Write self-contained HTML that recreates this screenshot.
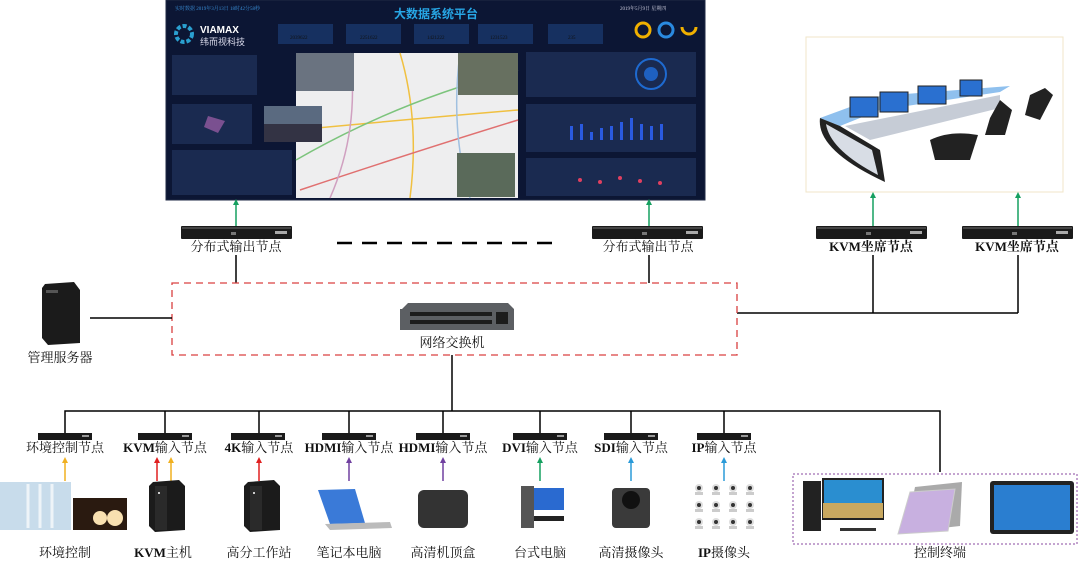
<!DOCTYPE html>
<html><head><meta charset="utf-8"><style>
html,body{margin:0;padding:0;background:#fff;width:1080px;height:561px;overflow:hidden}
svg{display:block}
text{font-family:"Liberation Serif","Noto Serif CJK SC",serif;fill:#111}
</style></head><body>
<svg width="1080" height="561" viewBox="0 0 1080 561" xmlns="http://www.w3.org/2000/svg">
<defs>
<g id="node"><rect x="0" y="0" width="111" height="13" rx="1" fill="#1a1a1a"/><rect x="1" y="1" width="109" height="2" fill="#444"/><rect x="94" y="5" width="12" height="3" fill="#aaa"/><rect x="50" y="6" width="5" height="3" fill="#777"/></g>
<g id="snode"><rect x="0" y="0" width="54" height="7" fill="#1a1a1a"/><rect x="44" y="2" width="7" height="2" fill="#999"/></g>
<g id="tower"><path d="M4 2 L30 0 L36 6 L36 50 L6 52 L0 46 L0 6 Z" fill="#1b1b1b"/><rect x="6" y="6" width="12" height="44" fill="#2a2a2a"/><rect x="9" y="12" width="2" height="2" fill="#ccc"/></g>
<g id="cam"><circle cx="5" cy="4" r="4" fill="#ddd"/><circle cx="5" cy="4" r="2" fill="#333"/><rect x="1" y="8" width="8" height="3" fill="#ccc"/></g>
</defs>

<!-- Dashboard -->
<rect x="166" y="0" width="539" height="200" fill="#0c1634"/>
<rect x="166" y="0" width="539" height="200" fill="none" stroke="#1f2a44" stroke-width="1"/>
<text x="436" y="18" font-size="12" font-weight="bold" text-anchor="middle" style="fill:#27a7e6;font-family:'Liberation Sans','Noto Sans CJK SC',sans-serif">大数据系统平台</text>
<text x="175" y="10" font-size="5" style="fill:#3a8fd8">实时数据  2019年3月13日 18时42分58秒</text>
<text x="620" y="10" font-size="5" style="fill:#ccd">2019年5月9日 星期四</text>
<circle cx="184" cy="34" r="8" fill="none" stroke="#2aa0d0" stroke-width="4" stroke-dasharray="4 2"/>
<text x="200" y="33" font-size="10" font-weight="bold" style="fill:#fff;font-family:'Liberation Sans',sans-serif">VIAMAX</text>
<text x="200" y="45" font-size="9" style="fill:#dde;font-family:'Liberation Sans','Noto Sans CJK SC',sans-serif">纬而视科技</text>
<g fill="#163060">
<rect x="278" y="24" width="55" height="20"/><rect x="346" y="24" width="55" height="20"/><rect x="414" y="24" width="55" height="20"/><rect x="478" y="24" width="55" height="20"/><rect x="548" y="24" width="55" height="20"/>
</g>
<g font-size="5" style="fill:#4ab4ff"><text x="290" y="39">2039622</text><text x="360" y="39">2251622</text><text x="427" y="39">1421222</text><text x="490" y="39">1231523</text><text x="568" y="39">235</text></g>
<circle cx="643" cy="30" r="7" fill="none" stroke="#f0b000" stroke-width="3"/><circle cx="666" cy="30" r="7" fill="none" stroke="#2a8ae0" stroke-width="3"/><path d="M682 27 A7 7 0 0 0 696 27" fill="none" stroke="#f0b000" stroke-width="3"/>
<!-- map -->
<rect x="296" y="53" width="222" height="145" fill="#eeeeef"/>
<g fill="none" stroke-width="1.5">
<path d="M296 130 Q400 120 518 110" stroke="#f0c040"/><path d="M400 53 Q420 120 410 198" stroke="#f0c040"/>
<path d="M296 160 Q400 100 518 70" stroke="#7cc47c"/><path d="M300 190 Q420 150 518 120" stroke="#e07070"/>
<path d="M350 53 Q360 130 330 198" stroke="#d0a0c0"/><path d="M460 53 Q450 130 470 198" stroke="#a0c0e0"/>
</g>
<rect x="296" y="53" width="58" height="38" fill="#6a7380"/><rect x="264" y="106" width="58" height="36" fill="#5a6a80"/><rect x="264" y="124" width="58" height="18" fill="#334"/>
<rect x="458" y="53" width="60" height="42" fill="#677060"/><rect x="457" y="153" width="58" height="44" fill="#5a6a5a"/>
<!-- left/right widgets -->
<g fill="#1a2a50"><rect x="172" y="55" width="85" height="40"/><rect x="172" y="104" width="80" height="40"/><rect x="172" y="150" width="120" height="45"/>
<rect x="526" y="52" width="170" height="45"/><rect x="526" y="104" width="170" height="48"/><rect x="526" y="158" width="170" height="38"/></g>
<path d="M208 116 L225 121 L218 133 L204 127 Z" fill="#7a5090"/>
<circle cx="651" cy="74" r="15" fill="none" stroke="#1e6ad0" stroke-width="2"/><circle cx="651" cy="74" r="7" fill="#1e60c0"/>
<g fill="#2a5ae0"><rect x="570" y="126" width="3" height="14"/><rect x="580" y="124" width="3" height="16"/><rect x="590" y="132" width="3" height="8"/><rect x="600" y="128" width="3" height="12"/><rect x="610" y="126" width="3" height="14"/><rect x="620" y="122" width="3" height="18"/><rect x="630" y="118" width="3" height="22"/><rect x="640" y="124" width="3" height="16"/><rect x="650" y="126" width="3" height="14"/><rect x="660" y="124" width="3" height="16"/></g>
<g fill="#e04060"><circle cx="580" cy="180" r="2"/><circle cx="600" cy="182" r="2"/><circle cx="620" cy="178" r="2"/><circle cx="640" cy="181" r="2"/><circle cx="660" cy="183" r="2"/></g>

<!-- Desk picture -->
<rect x="806" y="37" width="257" height="155" fill="#fff" stroke="#f0e6c8" stroke-width="1"/>
<path d="M820 118 L880 96 L1010 86 L1000 92 L880 110 L840 126 Z" fill="#8fc0ee"/>
<path d="M820 118 Q816 150 885 182 L880 150 L840 126 Z" fill="#222"/>
<path d="M826 124 Q830 150 878 175 L872 150 Z" fill="#d8dde5"/>
<path d="M845 126 L1000 95 L1000 108 L870 140 Z" fill="#c6ccd6"/>
<g fill="#2a70d0" stroke="#222"><rect x="850" y="97" width="28" height="20"/><rect x="880" y="92" width="28" height="20"/><rect x="918" y="86" width="28" height="18"/><rect x="960" y="80" width="22" height="16"/></g>
<g fill="#222"><path d="M930 140 Q950 130 978 135 L970 160 L935 160Z"/><path d="M990 118 L1000 100 L1012 110 L1005 135 L985 135Z"/><path d="M1030 95 L1045 88 L1053 95 L1040 120 L1025 115Z"/></g>

<!-- top output nodes -->
<line x1="236" y1="226" x2="236" y2="203" stroke="#16a060" stroke-width="1.5"/><path d="M236 199 l-3 6 h6z" fill="#16a060"/>
<use href="#node" x="181" y="226"/>
<text x="236" y="251" font-size="13" text-anchor="middle">分布式输出节点</text>
<line x1="236" y1="255" x2="236" y2="283" stroke="#000" stroke-width="1.5"/>
<line x1="649" y1="226" x2="649" y2="203" stroke="#16a060" stroke-width="1.5"/><path d="M649 199 l-3 6 h6z" fill="#16a060"/>
<use href="#node" x="592" y="226"/>
<text x="648" y="251" font-size="13" text-anchor="middle">分布式输出节点</text>
<line x1="649" y1="255" x2="649" y2="283" stroke="#000" stroke-width="1.5"/>
<line x1="337" y1="243" x2="560" y2="243" stroke="#000" stroke-width="2.5" stroke-dasharray="15 10"/>

<line x1="873" y1="226" x2="873" y2="196" stroke="#16a060" stroke-width="1.5"/><path d="M873 192 l-3 6 h6z" fill="#16a060"/>
<use href="#node" x="816" y="226"/>
<text x="871" y="251" font-size="13" font-weight="bold" text-anchor="middle">KVM坐席节点</text>
<line x1="1018" y1="226" x2="1018" y2="196" stroke="#16a060" stroke-width="1.5"/><path d="M1018 192 l-3 6 h6z" fill="#16a060"/>
<use href="#node" x="962" y="226"/>
<text x="1017" y="251" font-size="13" font-weight="bold" text-anchor="middle">KVM坐席节点</text>
<path d="M873 255 V313 M1018 255 V313 M737 313 H1018" stroke="#000" stroke-width="1.5" fill="none"/>

<!-- red dashed -->
<rect x="172" y="283" width="565" height="72" fill="none" stroke="#d94040" stroke-width="1.3" stroke-dasharray="7 5"/>
<!-- server -->
<path d="M45 284 L74 282 L80 290 L80 343 L48 345 L42 338 L42 288Z" fill="#1b1b1b"/><rect x="46" y="290" width="12" height="3" fill="#555"/>
<text x="60" y="362" font-size="13" text-anchor="middle">管理服务器</text>
<line x1="90" y1="318" x2="172" y2="318" stroke="#000" stroke-width="1.5"/>
<!-- switch -->
<path d="M402 309 L408 303 L508 303 L514 309 L514 330 L400 330 L400 309Z" fill="#5c5f63"/>
<g fill="#1c1c1c"><rect x="410" y="312" width="82" height="4"/><rect x="410" y="320" width="82" height="4"/><rect x="496" y="312" width="12" height="12"/></g>
<text x="452" y="347" font-size="13" text-anchor="middle">网络交换机</text>
<line x1="452" y1="355" x2="452" y2="411" stroke="#000" stroke-width="1.5"/>

<!-- bottom bus -->
<path d="M65 433 V411 H940 V472 M165 411 V433 M259 411 V433 M349 411 V433 M443 411 V433 M540 411 V433 M631 411 V433 M724 411 V433" stroke="#000" stroke-width="1.5" fill="none"/>
<use href="#snode" x="38" y="433"/><use href="#snode" x="138" y="433"/><use href="#snode" x="231" y="433"/><use href="#snode" x="322" y="433"/><use href="#snode" x="416" y="433"/><use href="#snode" x="513" y="433"/><use href="#snode" x="604" y="433"/><use href="#snode" x="697" y="433"/>
<g font-size="13" font-weight="bold" text-anchor="middle">
<text x="65" y="452" font-weight="normal">环境控制节点</text><text x="165" y="452">KVM<tspan font-weight="normal">输入节点</tspan></text><text x="259" y="452">4K<tspan font-weight="normal">输入节点</tspan></text><text x="349" y="452">HDMI<tspan font-weight="normal">输入节点</tspan></text><text x="443" y="452">HDMI<tspan font-weight="normal">输入节点</tspan></text><text x="540" y="452">DVI<tspan font-weight="normal">输入节点</tspan></text><text x="631" y="452">SDI<tspan font-weight="normal">输入节点</tspan></text><text x="724" y="452">IP<tspan font-weight="normal">输入节点</tspan></text>
</g>
<!-- arrows -->
<g stroke-width="1.5">
<line x1="65" y1="481" x2="65" y2="462" stroke="#f0b020"/><line x1="157" y1="481" x2="157" y2="462" stroke="#e02020"/><line x1="171" y1="481" x2="171" y2="462" stroke="#f0b020"/><line x1="259" y1="481" x2="259" y2="462" stroke="#e02020"/><line x1="349" y1="481" x2="349" y2="462" stroke="#7040a0"/><line x1="443" y1="481" x2="443" y2="462" stroke="#7040a0"/><line x1="540" y1="481" x2="540" y2="462" stroke="#16a060"/><line x1="631" y1="481" x2="631" y2="462" stroke="#2a9ad8"/><line x1="724" y1="481" x2="724" y2="462" stroke="#2a9ad8"/>
</g>
<path d="M65 457 l-3 6 h6z" fill="#f0b020"/><path d="M157 457 l-3 6 h6z" fill="#e02020"/><path d="M171 457 l-3 6 h6z" fill="#f0b020"/><path d="M259 457 l-3 6 h6z" fill="#e02020"/><path d="M349 457 l-3 6 h6z" fill="#7040a0"/><path d="M443 457 l-3 6 h6z" fill="#7040a0"/><path d="M540 457 l-3 6 h6z" fill="#16a060"/><path d="M631 457 l-3 6 h6z" fill="#2a9ad8"/><path d="M724 457 l-3 6 h6z" fill="#2a9ad8"/>

<!-- device images -->
<rect x="0" y="482" width="71" height="48" fill="#c8dceb"/><g stroke="#eef4f8" stroke-width="3"><line x1="28" y1="484" x2="28" y2="528"/><line x1="40" y1="484" x2="40" y2="528"/><line x1="52" y1="484" x2="52" y2="528"/></g>
<rect x="73" y="498" width="54" height="32" fill="#2a1a10"/><circle cx="100" cy="518" r="7" fill="#f8e0b0"/><circle cx="115" cy="518" r="8" fill="#f8e0b0"/>
<use href="#tower" x="149" y="480"/><use href="#tower" x="244" y="480"/>
<path d="M318 490 L355 489 L365 523 L330 524Z" fill="#3a7ad8"/><path d="M325 524 L390 522 L392 528 L330 530Z" fill="#bbb"/>
<rect x="418" y="490" width="50" height="38" rx="6" fill="#333"/>
<rect x="521" y="486" width="13" height="42" fill="#555"/><rect x="534" y="488" width="30" height="22" fill="#2a6ad0"/><rect x="534" y="516" width="30" height="5" fill="#222"/>
<rect x="612" y="488" width="38" height="40" rx="4" fill="#3a3a3a"/><circle cx="631" cy="500" r="9" fill="#111"/>
<g><use href="#cam" x="694" y="484"/><use href="#cam" x="711" y="484"/><use href="#cam" x="728" y="484"/><use href="#cam" x="745" y="484"/><use href="#cam" x="694" y="501"/><use href="#cam" x="711" y="501"/><use href="#cam" x="728" y="501"/><use href="#cam" x="745" y="501"/><use href="#cam" x="694" y="518"/><use href="#cam" x="711" y="518"/><use href="#cam" x="728" y="518"/><use href="#cam" x="745" y="518"/></g>
<g font-size="13" text-anchor="middle">
<text x="65" y="557">环境控制</text><text x="163" y="557"><tspan font-weight="bold">KVM</tspan>主机</text><text x="259" y="557">高分工作站</text><text x="349" y="557">笔记本电脑</text><text x="443" y="557">高清机顶盒</text><text x="540" y="557">台式电脑</text><text x="631" y="557">高清摄像头</text><text x="724" y="557"><tspan font-weight="bold">IP</tspan>摄像头</text><text x="940" y="557">控制终端</text>
</g>
<!-- control terminal -->
<rect x="793" y="474" width="284" height="70" fill="none" stroke="#8a4aa0" stroke-width="1" stroke-dasharray="2 2"/>
<rect x="803" y="481" width="18" height="50" fill="#222"/><rect x="823" y="479" width="60" height="40" fill="#2a8ed0" stroke="#222" stroke-width="2"/><rect x="823" y="503" width="60" height="15" fill="#c8a860"/><rect x="840" y="528" width="36" height="3" fill="#333"/>
<path d="M915 487 L962 482 L960 526 L906 532Z" fill="#aaa"/><path d="M910 492 L955 489 L948 531 L898 534Z" fill="#c8b0e0" stroke="#ccc"/>
<rect x="990" y="481" width="84" height="53" rx="3" fill="#222"/><rect x="994" y="485" width="76" height="45" fill="#2a7ed0"/>
</svg>
</body></html>
